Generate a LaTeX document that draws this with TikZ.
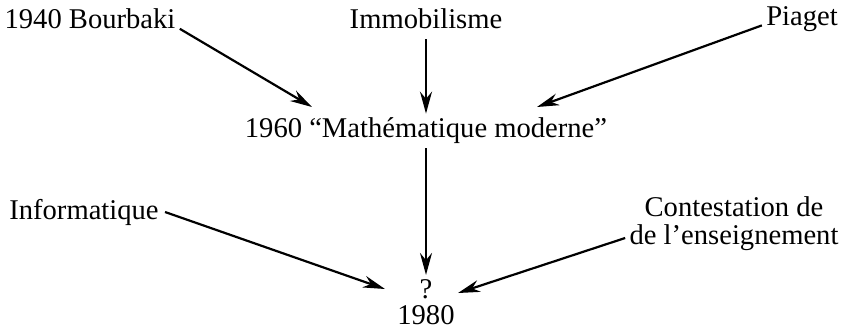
\documentclass[tikz,border=0pt]{standalone}
\usepackage{fontspec}
\setmainfont{Liberation Serif}
\usepackage{tikz}
\usetikzlibrary{arrows.meta,positioning,calc}

\begin{document}
\begin{tikzpicture}[x=0.5pt,y=-0.5pt,
	lbl/.style={inner sep=2pt,font=\fontsize{14.3}{16}\selectfont},
	infl/.style={-{Stealth[length=11pt,width=6pt]},line width=1.1pt}]
	\useasboundingbox (0,0) rectangle (843,329);
	% top row
	\node[lbl] (bourbaki) at (90,19) {1940 Bourbaki};
	\node[lbl] (immo) at (426,19) {Immobilisme};
	\node[lbl] (piaget) at (802,19) {Piaget};
	\node[lbl] (math) at (426,131) {1960 ``Mathématique moderne''};
	% bottom row
	\node[lbl] (info) at (84,212) {Informatique};
	\node[lbl] (contA) at (734,207) {Contestation de};
	\node[lbl] (contB) at (734,238) {de l'enseignement};
	\node[lbl] (q) at (426,289) {?};
	\node[lbl] (year) at (426,315) {1980};
	% arrow tips
	\coordinate (tipB) at (312,107);
	\coordinate (tipP) at (537,107);
	\coordinate (tipI) at (385,289);
	\coordinate (tipC) at (458,293);
	% influences
	\draw[infl] (bourbaki.base east) -- (tipB);
	\draw[infl] ([yshift=-3pt]immo.south) -- (math.north);
	\draw[infl] (piaget.base west) -- (tipP);
	\draw[infl] (math.south) -- (q.north);
	\draw[infl] ([xshift=1pt]info.east) -- (tipI);
	\draw[infl] (contB.west) -- (tipC);
\end{tikzpicture}
\end{document}
